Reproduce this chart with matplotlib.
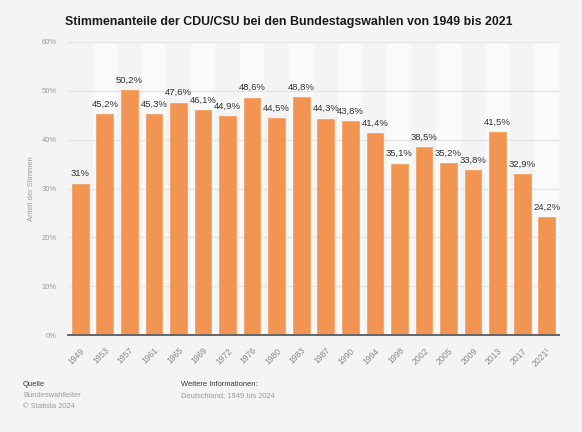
import matplotlib
matplotlib.use("Agg")
import matplotlib.pyplot as plt
from matplotlib.patches import Rectangle

years = ["1949", "1953", "1957", "1961", "1965", "1969", "1972", "1976", "1980", "1983",
         "1987", "1990", "1994", "1998", "2002", "2005", "2009", "2013", "2017", "2021¹"]
values = [31.0, 45.2, 50.2, 45.3, 47.6, 46.1, 44.9, 48.6, 44.5, 48.8,
          44.3, 43.8, 41.4, 35.1, 38.5, 35.2, 33.8, 41.5, 32.9, 24.2]
yticks = [0, 10, 20, 30, 40, 50, 60]

title = "Stimmenanteile der CDU/CSU bei den Bundestagswahlen von 1949 bis 2021"
ylabel = "Anteil der Stimmen"

plt.rcParams['font.family'] = ['Liberation Sans', 'DejaVu Sans']

bg = "#f4f4f4"
fig = plt.figure(figsize=(5.82, 4.32), dpi=100, facecolor=bg)
ax = fig.add_axes([68/582, 1-335/432, (559-68)/582, (335-42)/432])
ax.set_facecolor(bg)

n = len(years)
x = list(range(n))
# alternating column stripes
for i in x:
    if i % 2 == 1:
        ax.add_patch(Rectangle((i-0.5, 0), 1, 60, facecolor="#fafafa", edgecolor="none", zorder=0))

for t in yticks[1:]:
    ax.axhline(t, color="#e4e4e4", lw=0.9, zorder=1)

bars = ax.bar(x, values, width=0.68, color="#f39552", edgecolor="#f5a366", linewidth=0.6, zorder=2)

for xi, v in zip(x, values):
    s = (("%g" % v).replace(".", ",")) + "%"
    ax.text(xi, v + 1.1, s, ha="center", va="bottom", fontsize=6.8, color="#333333", zorder=3)

ax.set_xlim(-0.5, n-0.5)
ax.set_ylim(0, 60)
ax.set_yticks(yticks)
ax.set_yticklabels([f"{t}%" for t in yticks], fontsize=5.5, color="#9a9a9a")
ax.set_xticks(x)
ax.set_xticklabels(years, rotation=45, ha="right", rotation_mode="anchor", fontsize=6.2, color="#8a8a8a")
ax.tick_params(axis="both", length=0)
ax.tick_params(axis="y", pad=8)
ax.tick_params(axis="x", pad=8)
for sp in ["top", "right", "left"]:
    ax.spines[sp].set_visible(False)
ax.spines["bottom"].set_color("#666666")
ax.spines["bottom"].set_linewidth(1.4)
ax.spines["bottom"].set_zorder(4)

ax.set_ylabel(ylabel, fontsize=5.5, color="#9a9a9a", labelpad=5)

fig.text(289/582, 1-22/432, title, ha="center", va="center", fontsize=8.9, fontweight="bold", color="#1a1a1a")

fs = 5.4
fig.text(23/582, 1-385/432, "Quelle", fontsize=fs, color="#333333", va="center")
fig.text(23/582, 1-395.5/432, "Bundeswahlleiter", fontsize=fs, color="#9a9a9a", va="center")
fig.text(23/582, 1-406/432, "© Statista 2024", fontsize=fs, color="#9a9a9a", va="center")
fig.text(181/582, 1-385/432, "Weitere Informationen:", fontsize=fs, color="#333333", va="center")
fig.text(181/582, 1-395.5/432, "Deutschland; 1949 bis 2024", fontsize=fs, color="#9a9a9a", va="center")

fig.savefig("out.png", dpi=100, facecolor=bg)
